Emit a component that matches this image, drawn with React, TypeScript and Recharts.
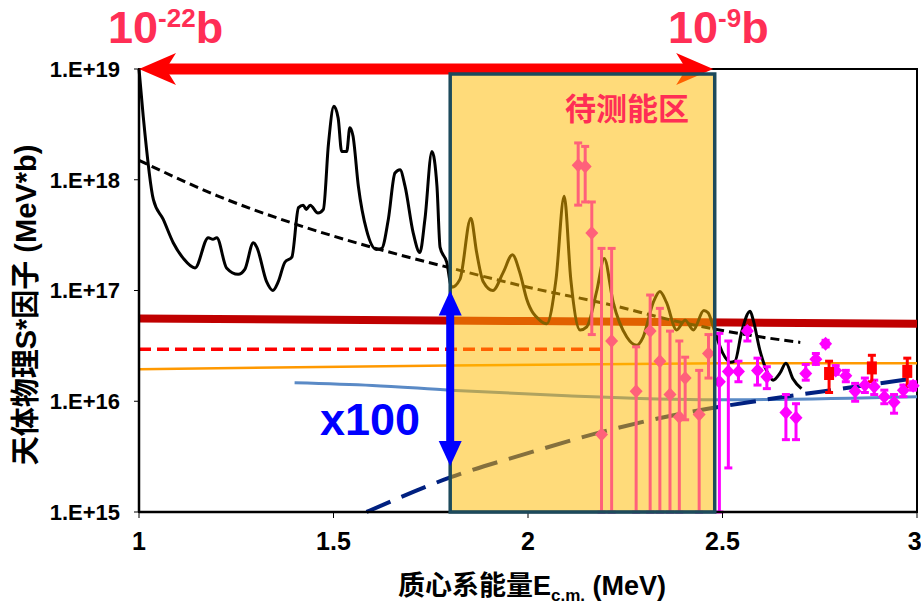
import React from "react";
import {
  ComposedChart,
  Line,
  Scatter,
  XAxis,
  YAxis,
  ErrorBar,
  ReferenceArea,
  Label,
} from "recharts";

const energyTicks = [1, 1.5, 2, 2.5, 3];
const sFactorTicks = [1e15, 1e16, 1e17, 1e18, 1e19];

// resonance curve (solid black)
const resE = [
  1.0, 1.011, 1.037, 1.062, 1.088, 1.114, 1.144, 1.178, 1.19, 1.2, 1.225, 1.255, 1.272, 1.294, 1.303,
  1.328, 1.344, 1.358, 1.375, 1.393, 1.41, 1.422, 1.43, 1.44, 1.46, 1.474, 1.487, 1.501, 1.512, 1.521,
  1.534, 1.542, 1.55, 1.564, 1.585, 1.61, 1.624, 1.641, 1.658, 1.671, 1.684, 1.705, 1.722, 1.735, 1.753,
  1.766, 1.774, 1.791, 1.804, 1.825, 1.853, 1.868, 1.885, 1.91, 1.936, 1.96, 1.979, 1.997, 2.03, 2.048,
  2.072, 2.093, 2.11, 2.134, 2.151, 2.177, 2.196, 2.219, 2.254, 2.279, 2.296, 2.322, 2.339, 2.356, 2.382,
  2.404, 2.425, 2.452, 2.463, 2.478, 2.5, 2.52, 2.532, 2.549, 2.571, 2.579, 2.596, 2.613, 2.63, 2.648,
  2.663, 2.681, 2.703,
];
const resS = [
  1.0e19, 3.7e18, 6.6e17, 4.4e17, 2.7e17, 1.95e17, 1.6e17, 3.0e17, 2.9e17, 3.0e17, 1.6e17, 1.4e17, 1.55e17, 2.7e17, 2.45e17,
  1.2e17, 1.0e17, 1.2e17, 1.8e17, 2.0e17, 5.6e17, 5.9e17, 5.4e17, 5.9e17, 5.0e17, 5.4e17, 2.1e18, 4.6e18, 3.6e18, 1.8e18,
  1.8e18, 2.95e18, 2.5e18, 8.7e17, 3.5e17, 2.35e17, 2.4e17, 4.4e17, 1.15e18, 1.23e18, 8.7e17, 3.3e17, 2.2e17, 4.4e17, 1.8e18,
  8.7e17, 2.45e17, 1.8e17, 1.07e17, 1.26e17, 4.5e17, 2.2e17, 1.2e17, 1.0e17, 1.45e17, 2.1e17, 1.45e17, 8.3e16, 5.4e16, 5.0e16,
  1.26e17, 7.1e17, 1.26e17, 4.4e16, 4.7e16, 1.0e17, 1.95e17, 7.8e16, 3.8e16, 3.2e16, 3.8e16, 7.8e16, 9.8e16, 7.8e16, 4.4e16,
  5.4e16, 4.4e16, 6.6e16, 6.3e16, 4.5e16, 2.75e16, 2.25e16, 2.3e16, 4.2e16, 6.5e16, 5.4e16, 2.9e16, 1.9e16, 1.55e16, 1.8e16,
  2.2e16, 1.6e16, 1.3e16,
];

// non-resonant trend (black dashed)
const trendE = [1.0, 1.2, 1.4, 1.6, 1.8, 2.0, 2.2, 2.4, 2.6, 2.7];
const trendS = [1.5e18, 7.2e17, 4.0e17, 2.45e17, 1.6e17, 1.07e17, 7.6e16, 5.1e16, 3.8e16, 3.4e16];

const thickE = [1, 2, 3];
const thickS = [5.6e16, 5.3e16, 5.0e16];

const redDashE = [1, 2.2];
const redDashS = [2.95e16, 2.95e16];

const orangeE = [1, 1.8, 2.5, 3];
const orangeS = [1.95e16, 2.1e16, 2.2e16, 2.2e16];

const steelE = [1.4, 1.6, 1.8, 2.1, 2.48, 3];
const steelS = [1.47e16, 1.39e16, 1.26e16, 1.12e16, 1.03e16, 1.1e16];

const navyE = [1.585, 1.8, 2.0, 2.2, 2.4, 2.6, 2.8, 3.0];
const navyS = [1.0e15, 2.05e15, 3.4e15, 5.4e15, 7.8e15, 1.02e16, 1.29e16, 1.62e16];

// measured points (diamonds) with error limits
const measE = [
  2.129, 2.147, 2.164, 2.189, 2.215, 2.278, 2.314, 2.339, 2.365, 2.389, 2.404, 2.44, 2.464, 2.492, 2.515,
  2.541, 2.564, 2.59, 2.614, 2.663, 2.689, 2.714, 2.74, 2.765, 2.791, 2.817, 2.841, 2.866, 2.89, 2.916,
  2.941, 2.965, 2.99,
];
const measS = [
  1.35e18, 1.32e18, 3.3e17, 5.0e15, 3.5e16, 1.23e16, 4.3e16, 2.3e16, 1.15e16, 7.2e15, 1.62e16, 7.6e15, 2.7e16, 1.5e16, 1.86e16,
  1.86e16, 4.3e16, 1.9e16, 1.66e16, 7.9e15, 7.1e15, 1.78e16, 2.4e16, 3.3e16, 1.9e16, 1.7e16, 1.23e16, 1.4e16, 1.35e16, 1.1e16,
  9.8e15, 1.26e16, 1.38e16,
];
const measHi = [
  2.15e18, 2.0e18, 6.3e17, 2.4e17, 2.4e17, 3.1e16, 9.1e16, 6.9e16, 4.3e16, 3.5e16, 2.5e16, 1.9e16, 4.0e16, 4.1e16, 3.5e16,
  2.3e16, 4.6e16, 2.45e16, 2.05e16, 1.15e16, 9.5e15, 2.15e16, 2.7e16, 3.55e16, 2.1e16, 1.9e16, 1.45e16, 1.62e16, 1.55e16, 1.26e16,
  1.15e16, 1.4e16, 1.5e16,
];
const measLo = [
  5.9e17, 6.3e17, 4.0e16, 1e15, 1e15, 1e15, 1e15, 1e15, 1e15, 1e15, 6.8e15, 1e15, 1.62e16, 1e15, 2.5e15,
  1.5e16, 3.5e16, 1.4e16, 1.3e16, 4.5e15, 4.5e15, 1.55e16, 2.15e16, 3.1e16, 1.75e16, 1.5e16, 1.0e16, 1.2e16, 1.15e16, 9.5e15,
  7.8e15, 1.1e16, 1.26e16,
];

// second data set (squares)
const sqE = [2.774, 2.884, 2.975];
const sqS = [1.78e16, 2.0e16, 1.86e16];
const sqHi = [2.3e16, 2.6e16, 2.45e16];
const sqLo = [1.2e16, 1.5e16, 1.35e16];

// energy span arrow and x100 arrow
const spanShaftE = [1.04, 2.44];
const spanTipE = [1.0, 2.476];
const spanS = 1e19;
const gainE = 1.8;
const gainShaftS = [7.8e16, 3.3e15];
const gainTipS = [1e17, 2.6e15];

const pts = (xs: number[], ys: number[]) => xs.map((x, i) => ({ x, y: ys[i] }));
const withErr = (xs: number[], ys: number[], hi: number[], lo: number[]) =>
  xs.map((x, i) => ({ x, y: ys[i], err: [ys[i] - lo[i], hi[i] - ys[i]] }));

const measData = withErr(measE, measS, measHi, measLo);
const sqData = withErr(sqE, sqS, sqHi, sqLo);

const spanShaft = spanShaftE.map((x) => ({ x, y: spanS }));
const spanTips = [
  { x: spanTipE[0], y: spanS, dir: "left" },
  { x: spanTipE[1], y: spanS, dir: "right" },
];
const gainShaft = gainShaftS.map((y) => ({ x: gainE, y }));
const gainTips = [
  { x: gainE, y: gainTipS[0], dir: "up" },
  { x: gainE, y: gainTipS[1], dir: "down" },
];

const latin = "'Liberation Sans', Arial, sans-serif";
const narrow = "'Liberation Sans Narrow', 'Arial Narrow', 'Liberation Sans', sans-serif";
const cjk = "'Liberation Sans', 'Noto Sans CJK SC', sans-serif";
const accent = "#FF2E55";

const Diamond = (p: any) => {
  const { cx, cy } = p;
  return (
    <polygon
      points={`${cx},${cy - 7} ${cx + 6.5},${cy} ${cx},${cy + 7} ${cx - 6.5},${cy}`}
      fill="#FF00FF"
    />
  );
};

const Block = (p: any) => <rect x={p.cx - 5} y={p.cy - 6.5} width={10} height={13} fill="#FF0000" />;

// stealth-style head for the horizontal span arrow
const SpanHead = (p: any) => {
  const { cx, cy, payload } = p;
  const s = payload.dir === "left" ? 1 : -1;
  return (
    <polygon
      points={`${cx},${cy} ${cx + s * 37},${cy - 16} ${cx + s * 27},${cy} ${cx + s * 37},${cy + 16}`}
      fill="#FF0000"
    />
  );
};

const GainHead = (p: any) => {
  const { cx, cy, payload } = p;
  const s = payload.dir === "up" ? 1 : -1;
  return (
    <polygon
      points={`${cx},${cy} ${cx - 11.5},${cy + s * 25} ${cx + 11.5},${cy + s * 25}`}
      fill="#0000FF"
    />
  );
};

const XTitle = () => (
  <text x={532} y={595} textAnchor="middle" fontFamily={cjk} fontWeight={700} fontSize={27} fill="#000">
    质心系能量E
    <tspan dy={6} fontSize={17}>
      c.m.
    </tspan>
    <tspan dy={-6}> (MeV)</tspan>
  </text>
);

const YTitle = () => (
  <text
    x={36}
    y={305}
    transform="rotate(-90 36 305)"
    textAnchor="middle"
    fontFamily={cjk}
    fontWeight={700}
    fontSize={29}
    fill="#000"
  >
    天体物理S*因子 (MeV*b)
  </text>
);

export default function App() {
  return (
    <div style={{ position: "absolute", left: 0, top: 0, width: 921, height: 605, background: "#fff" }}>
      <ComposedChart width={921} height={605} margin={{ top: 69, right: 4, bottom: 53, left: 39 }}>
        <XAxis
          type="number"
          dataKey="x"
          domain={[1, 3]}
          ticks={energyTicks}
          height={40}
          tickSize={6}
          tickMargin={14}
          axisLine={{ stroke: "#000", strokeWidth: 2.5 }}
          tickLine={{ stroke: "#000", strokeWidth: 1 }}
          tick={{ fill: "#000", fontSize: 25, fontWeight: 700, fontFamily: narrow }}
        >
          <Label content={XTitle} />
        </XAxis>
        <YAxis
          type="number"
          dataKey="y"
          scale="log"
          domain={[1e15, 1e19]}
          ticks={sFactorTicks}
          width={100}
          tickSize={5}
          tickMargin={14}
          tickFormatter={(v: number) => `1.E+${Math.round(Math.log10(v))}`}
          axisLine={{ stroke: "#000", strokeWidth: 2.5 }}
          tickLine={{ stroke: "#000", strokeWidth: 1 }}
          tick={{ fill: "#000", fontSize: 22, fontWeight: 700, fontFamily: latin }}
        >
          <Label content={YTitle} />
        </YAxis>

        <ReferenceArea x1={1} x2={3} y1={1e15} y2={1e19} fill="none" stroke="#000" strokeWidth={2} fillOpacity={0} />

        <Line data={pts(thickE, thickS)} dataKey="y" stroke="#C00000" strokeWidth={8} dot={false} isAnimationActive={false} />
        <Line data={pts(redDashE, redDashS)} dataKey="y" stroke="#FF0000" strokeWidth={3.5} strokeDasharray="12 6" dot={false} isAnimationActive={false} />
        <Line data={pts(orangeE, orangeS)} dataKey="y" stroke="#FF9900" strokeWidth={2.5} dot={false} isAnimationActive={false} />
        <Line data={pts(steelE, steelS)} dataKey="y" type="monotone" stroke="#5A8AC6" strokeWidth={3} dot={false} isAnimationActive={false} />
        <Line data={pts(navyE, navyS)} dataKey="y" type="monotone" stroke="#002080" strokeWidth={4} strokeDasharray="26 12" dot={false} isAnimationActive={false} />
        <Line data={pts(trendE, trendS)} dataKey="y" type="monotone" stroke="#000" strokeWidth={3} strokeDasharray="9 5" dot={false} isAnimationActive={false} />
        <Line data={pts(resE, resS)} dataKey="y" type="monotone" stroke="#000" strokeWidth={3} dot={false} isAnimationActive={false} />

        <Scatter data={measData} dataKey="y" shape={Diamond} isAnimationActive={false}>
          <ErrorBar dataKey="err" direction="y" width={4} stroke="#FF00FF" strokeWidth={3} isAnimationActive={false} />
        </Scatter>
        <Scatter data={sqData} dataKey="y" shape={Block} isAnimationActive={false}>
          <ErrorBar dataKey="err" direction="y" width={4} stroke="#FF0000" strokeWidth={3} isAnimationActive={false} />
        </Scatter>

        <Line data={spanShaft} dataKey="y" stroke="#FF0000" strokeWidth={11} dot={false} isAnimationActive={false} zIndex={650} />
        <Scatter data={spanTips} dataKey="y" shape={SpanHead} isAnimationActive={false} zIndex={650} />

        <ReferenceArea
          x1={1.8}
          x2={2.48}
          y1={1e15}
          y2={9e18}
          fill="#FFBA00"
          fillOpacity={0.52}
          stroke="#1D4A5C"
          strokeWidth={3.5}
          zIndex={700}
        />

        <Line data={gainShaft} dataKey="y" stroke="#0000FF" strokeWidth={8} dot={false} isAnimationActive={false} zIndex={800} />
        <Scatter data={gainTips} dataKey="y" shape={GainHead} isAnimationActive={false} zIndex={800} />
      </ComposedChart>

      <svg width={921} height={605} style={{ position: "absolute", left: 0, top: 0, pointerEvents: "none" }}>
        <text x={108} y={43} fill={accent} fontFamily={latin} fontWeight={700} fontSize={45}>
          10
          <tspan dy={-16} fontSize={26}>
            -22
          </tspan>
          <tspan dy={16}>b</tspan>
        </text>
        <text x={668} y={43} fill={accent} fontFamily={latin} fontWeight={700} fontSize={45}>
          10
          <tspan dy={-16} fontSize={26}>
            -9
          </tspan>
          <tspan dy={16}>b</tspan>
        </text>
        <text x={565} y={120} fill={accent} fontFamily="'Noto Sans CJK SC', sans-serif" fontWeight={700} fontSize={31}>
          待测能区
        </text>
        <text x={320} y={435} fill="#0000FF" fontFamily={latin} fontWeight={700} fontSize={45}>
          x100
        </text>
      </svg>
    </div>
  );
}
